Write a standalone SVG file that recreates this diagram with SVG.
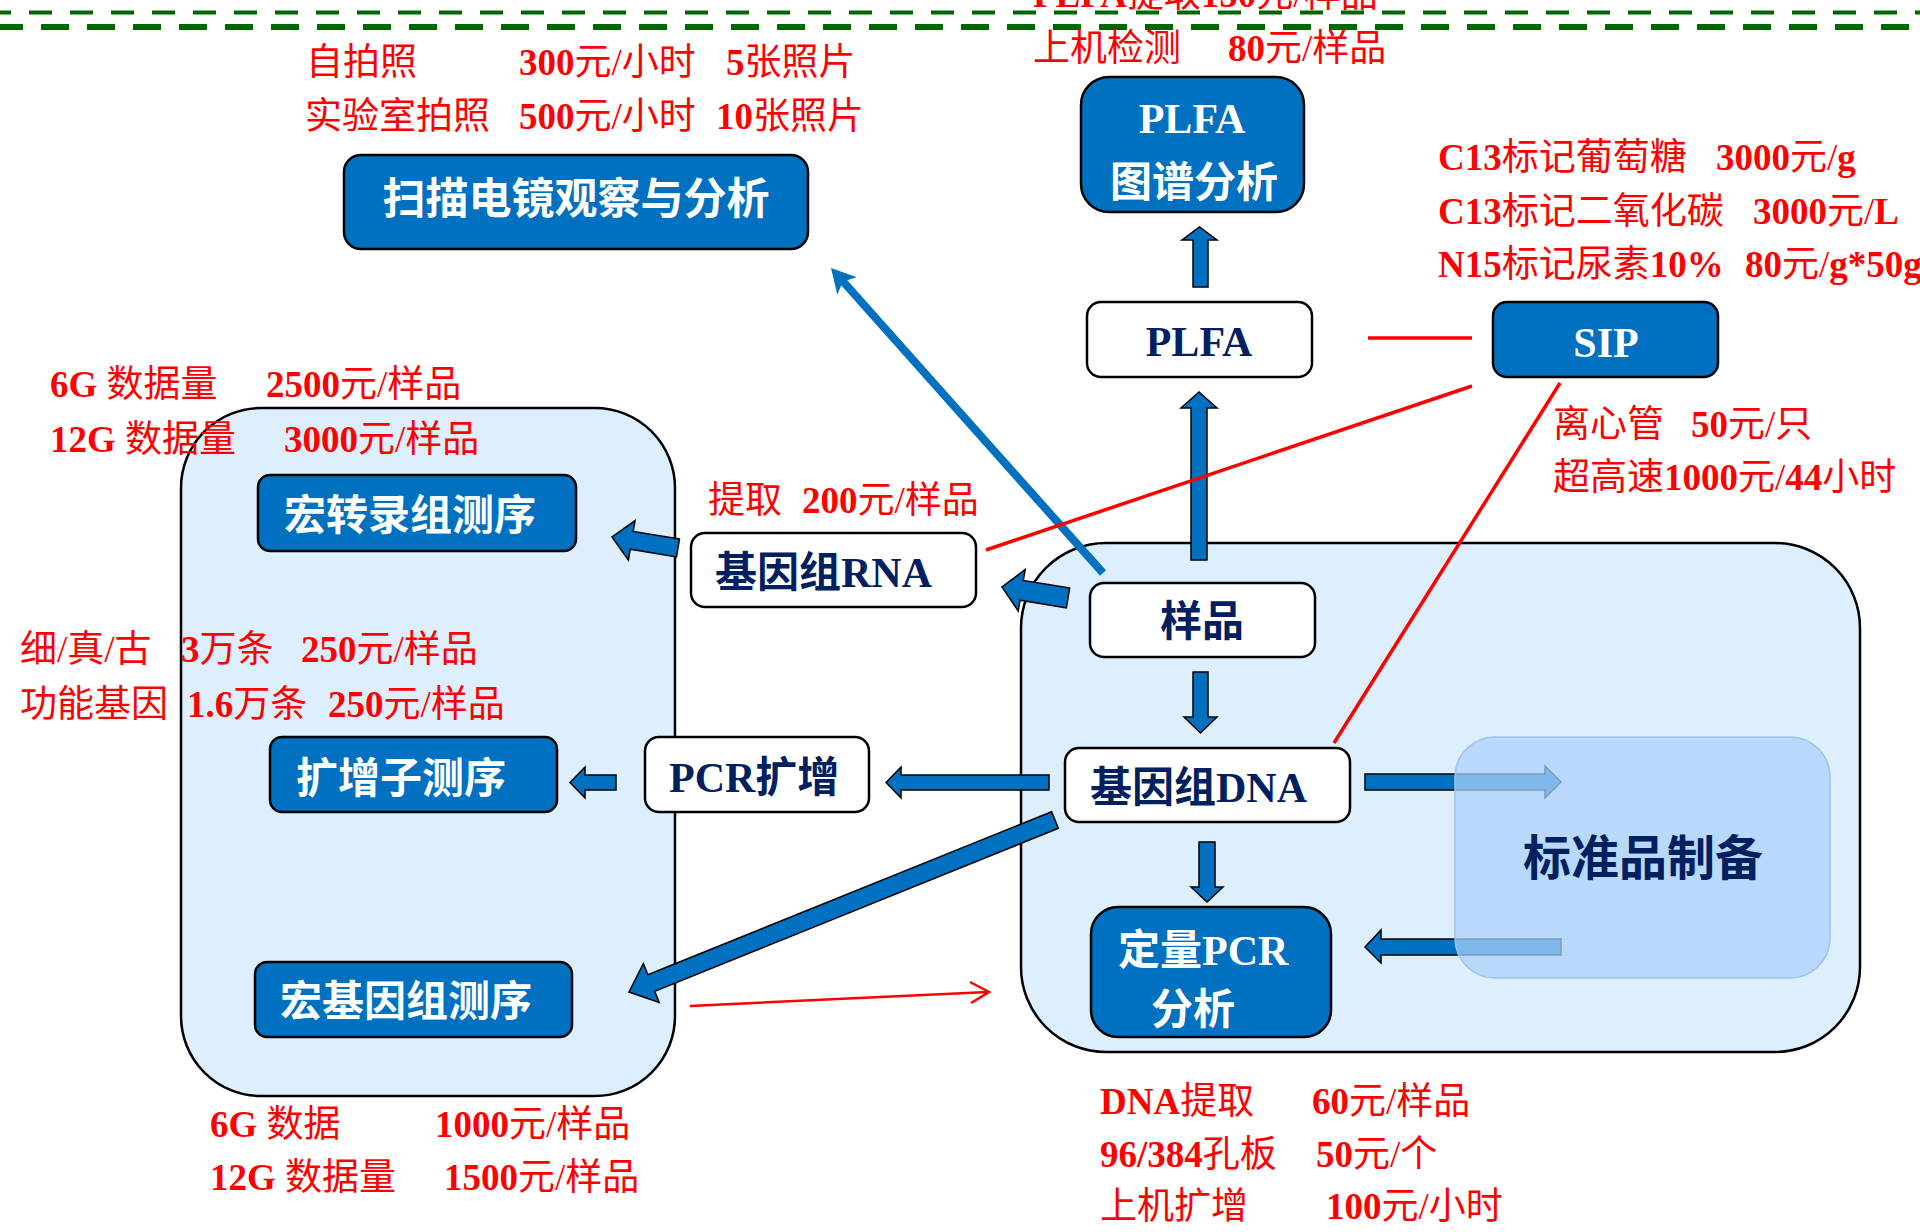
<svg xmlns="http://www.w3.org/2000/svg" width="1920" height="1232" viewBox="0 0 1920 1232">
<style>
.cont{fill:#DDEEFD;stroke:#000;stroke-width:2.5}
.wbox{fill:#fff;stroke:#000;stroke-width:2.5}
.bbox{fill:#0070C0;stroke:#000;stroke-width:2.5}
.blk{fill:#0070C0;stroke:#000;stroke-width:1.5;stroke-linejoin:miter}
.rl{stroke:#FF0000;stroke-width:3.5;fill:none}
.red{fill:#FF0000;font-family:"Liberation Serif","Noto Sans CJK SC",serif;font-size:37px}
.b{font-weight:700}
.nt{font-family:"Liberation Serif","Noto Sans CJK SC",sans-serif;font-weight:700;font-size:42px}
.navy{fill:#002060}
.wt{fill:#fff}
</style>
<rect width="1920" height="1232" fill="#fff"/>
<g id="dashes">
<line x1="0" y1="12.5" x2="1920" y2="12.5" stroke="#006600" stroke-width="4" stroke-dasharray="23 18" stroke-dashoffset="12"/>
<line x1="0" y1="27" x2="1920" y2="27" stroke="#006600" stroke-width="6" stroke-dasharray="28 18" stroke-dashoffset="5"/>
</g>
<g id="containers">
<rect class="cont" x="181" y="408" width="494" height="688" rx="80"/>
<rect class="cont" x="1021" y="543" width="839" height="509" rx="85"/>
</g>
<g id="node-sem"><rect class="bbox" x="344" y="155" width="464" height="94" rx="17"/><text class="nt wt" x="576" y="214" text-anchor="middle" style="font-size:43px">扫描电镜观察与分析</text></g>
<g id="node-plfa-map"><rect class="bbox" x="1081" y="77" width="223" height="135" rx="28"/><text class="nt wt" x="1192" y="133" text-anchor="middle">PLFA</text><text class="nt wt" x="1194" y="197" text-anchor="middle">图谱分析</text></g>
<g id="node-plfa"><rect class="wbox" x="1087" y="302" width="225" height="75" rx="14"/><text class="nt navy" x="1199" y="356" text-anchor="middle">PLFA</text></g>
<g id="node-sip"><rect class="bbox" x="1493" y="302" width="225" height="75" rx="14"/><text class="nt wt" x="1606" y="357" text-anchor="middle">SIP</text></g>
<g id="node-rna"><rect class="wbox" x="691" y="533" width="285" height="74" rx="14"/><text class="nt navy" x="715" y="587">基因组RNA</text></g>
<g id="node-sample"><rect class="wbox" x="1090" y="583" width="225" height="74" rx="14"/><text class="nt navy" x="1202" y="636" text-anchor="middle">样品</text></g>
<g id="node-metatrans"><rect class="bbox" x="258" y="475" width="318" height="76" rx="12"/><text class="nt wt" x="410" y="530" text-anchor="middle">宏转录组测序</text></g>
<g id="node-amplicon"><rect class="bbox" x="270" y="737" width="287" height="75" rx="12"/><text class="nt wt" x="401" y="793" text-anchor="middle">扩增子测序</text></g>
<g id="node-pcr"><rect class="wbox" x="645" y="737" width="224" height="75" rx="14"/><text class="nt navy" x="669" y="792">PCR扩增</text></g>
<g id="node-dna"><rect class="wbox" x="1065" y="748" width="285" height="74" rx="14"/><text class="nt navy" x="1090" y="802">基因组DNA</text></g>
<g id="node-metagenome"><rect class="bbox" x="255" y="962" width="317" height="75" rx="12"/><text class="nt wt" x="406" y="1016" text-anchor="middle">宏基因组测序</text></g>
<g id="node-qpcr"><rect class="bbox" x="1091" y="907" width="240" height="130" rx="27"/><text class="nt wt" x="1118" y="965">定量PCR</text><text class="nt wt" x="1193" y="1024" text-anchor="middle">分析</text></g>
<g id="connectors">
<polygon class="blk" points="1193,287 1193,240 1182,240 1199.5,227 1217,240 1208,240 1208,287"/>
<polygon class="blk" points="1191,560 1191,408 1181,408 1199,392 1217,408 1207,408 1207,560"/>
<polygon class="blk" points="1193,672 1208,672 1208,717 1217,717 1200.5,733 1184,717 1193,717"/>
<polygon class="blk" points="1199,842 1215,842 1215,887 1223,887 1207,902 1191,887 1199,887"/>
<polygon class="blk" points="1049,775 901,775 901,767 886,782.5 901,798 901,790 1049,790"/>
<polygon class="blk" points="616,775 585,775 585,767 570,782.5 585,798 585,790 616,790"/>
<polygon class="blk" points="1365,774 1545,774 1545,766 1561,782 1545,798 1545,790 1365,790"/>
<polygon class="blk" points="1561,939 1381,939 1381,930 1365,947 1381,963 1381,955 1561,955"/>
<polygon class="blk" points="1069.6,588.1 1023.3,580.4 1025.2,569.6 1002,587 1018.2,611 1020.1,600.2 1066.4,607.9"/>
<polygon class="blk" points="679.5,539.1 633.2,531.4 635,520.6 612,537 628.4,560 630.2,549.2 676.5,556.9"/>
<polygon class="blk" points="1058.4,828.3 654.7,991.3 659.2,1002.5 629,992 643.4,963.5 647.9,974.7 1051.6,811.7"/>
<line x1="1103" y1="573" x2="843" y2="281.4" stroke="#0070C0" stroke-width="8"/>
<polygon points="831,268 856.7,277.3 843,281.4 837.3,294.6" fill="#0070C0"/>
<line class="rl" x1="1368" y1="338" x2="1472" y2="338"/>
<line class="rl" x1="986" y1="550" x2="1472" y2="386"/>
<line class="rl" x1="1560" y1="383" x2="1334" y2="743"/>
<path d="M690,1006 L988,992 M970,982 L989,992 L971,1003" stroke="#FF0000" stroke-width="2.5" fill="none"/>
</g>
<g id="node-standard"><rect x="1455" y="737" width="375" height="241" rx="40" fill="#ABD1F9" fill-opacity="0.74" stroke="#9CC3EE" stroke-width="1.5"/><text class="nt navy" x="1643" y="875" text-anchor="middle" style="font-size:48px">标准品制备</text></g>
<g id="labels">
<text class="red" x="1033" y="7"><tspan class="b">PLFA</tspan>提取<tspan class="b">150</tspan>元/样品</text>
<text class="red" x="1033" y="61">上机检测<tspan class="b" x="1228">80</tspan>元/样品</text>
<text class="red" x="306" y="75">自拍照<tspan class="b" x="519">300</tspan>元/小时<tspan class="b" x="726">5</tspan>张照片</text>
<text class="red" x="305" y="129">实验室拍照<tspan class="b" x="519">500</tspan>元/小时<tspan class="b" x="716">10</tspan>张照片</text>
<text class="red" x="1438" y="170"><tspan class="b">C13</tspan>标记葡萄糖<tspan class="b" x="1716">3000</tspan>元/<tspan class="b">g</tspan></text>
<text class="red" x="1438" y="224"><tspan class="b">C13</tspan>标记二氧化碳<tspan class="b" x="1753">3000</tspan>元/<tspan class="b">L</tspan></text>
<text class="red" x="1438" y="277"><tspan class="b">N15</tspan>标记尿素<tspan class="b">10%</tspan><tspan class="b" x="1745">80</tspan>元/<tspan class="b">g*50g</tspan></text>
<text class="red" x="1553" y="437">离心管<tspan class="b" x="1691">50</tspan>元/只</text>
<text class="red" x="1553" y="490">超高速<tspan class="b">1000</tspan>元/<tspan class="b">44</tspan>小时</text>
<text class="red" x="50" y="397"><tspan class="b">6G</tspan> 数据量<tspan class="b" x="266">2500</tspan>元/样品</text>
<text class="red" x="50" y="452"><tspan class="b">12G</tspan> 数据量<tspan class="b" x="284">3000</tspan>元/样品</text>
<text class="red" x="708" y="513">提取<tspan class="b" x="802">200</tspan>元/样品</text>
<text class="red" x="20" y="662">细/真/古<tspan class="b" x="181">3</tspan>万条<tspan class="b" x="301">250</tspan>元/样品</text>
<text class="red" x="20" y="717">功能基因<tspan class="b" x="187">1.6</tspan>万条<tspan class="b" x="328">250</tspan>元/样品</text>
<text class="red" x="210" y="1137"><tspan class="b">6G</tspan> 数据<tspan class="b" x="435">1000</tspan>元/样品</text>
<text class="red" x="210" y="1190"><tspan class="b">12G</tspan> 数据量<tspan class="b" x="444">1500</tspan>元/样品</text>
<text class="red" x="1100" y="1114"><tspan class="b">DNA</tspan>提取<tspan class="b" x="1312">60</tspan>元/样品</text>
<text class="red" x="1100" y="1167"><tspan class="b">96/384</tspan>孔板<tspan class="b" x="1316">50</tspan>元/个</text>
<text class="red" x="1100" y="1219">上机扩增<tspan class="b" x="1326">100</tspan>元/小时</text>
</g>
</svg>
